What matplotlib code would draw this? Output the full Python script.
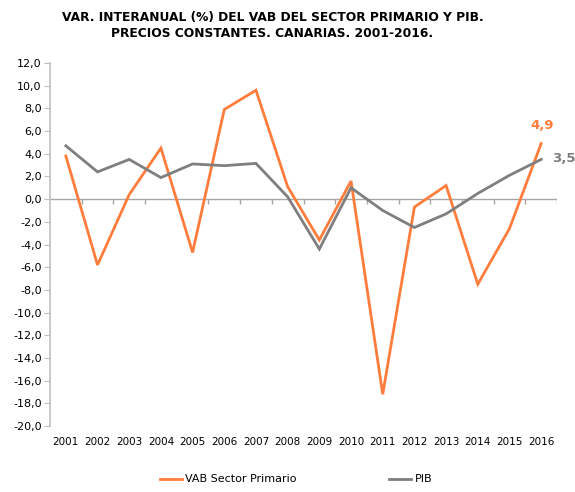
"""
Var. interanual (%) del VAB del sector primario y PIB, Canarias 2001-2016.
"""
import matplotlib
matplotlib.use("Agg")
import matplotlib.pyplot as plt
from matplotlib.ticker import FuncFormatter, MultipleLocator

plt.rcParams.update({
    "font.family": "DejaVu Sans",
    "font.size": 8,
})

# ── Data ─────────────────────────────────────────────────────────────────────
years = [str(y) for y in range(2001, 2017)]
vab_primario = [3.8, -5.8, 0.4, 4.5, -4.7, 7.9, 9.6, 1.1, -3.6, 1.6,
                -17.2, -0.7, 1.2, -7.5, -2.6, 4.9]
pib = [4.7, 2.4, 3.5, 1.9, 3.1, 2.95, 3.15, 0.2, -4.4, 1.0,
       -1.0, -2.5, -1.3, 0.5, 2.1, 3.5]

ORANGE = "#FF7D3C"
GREY = "#7F7F7F"

# ── Figure ───────────────────────────────────────────────────────────────────
fig = plt.figure(figsize=(5.75, 4.92), dpi=100)
ax = fig.add_axes([50 / 575, 1 - 426 / 492, 507 / 575, (426 - 63) / 492])

x = list(range(len(years)))
ax.plot(x, vab_primario, color=ORANGE, lw=2.0, label="VAB Sector Primario",
        solid_joinstyle="miter")
ax.plot(x, pib, color=GREY, lw=2.0, label="PIB", solid_joinstyle="miter")

# end labels
ax.annotate(f"{vab_primario[-1]:.1f}".replace(".", ","), xy=(x[-1], vab_primario[-1]),
            xytext=(1, 8), textcoords="offset points", ha="center", va="bottom",
            color=ORANGE, fontsize=9.5, fontweight="bold")
ax.annotate(f"{pib[-1]:.1f}".replace(".", ","), xy=(x[-1], pib[-1]),
            xytext=(8, 1), textcoords="offset points", ha="left", va="center",
            color=GREY, fontsize=9.5, fontweight="bold")

# axes
ax.set_xlim(-0.5, len(years) - 0.5)
ax.set_ylim(-20, 12)
ax.yaxis.set_major_locator(MultipleLocator(2))
ax.yaxis.set_major_formatter(FuncFormatter(lambda v, _: f"{v:.1f}".replace(".", ",")))
ax.set_xticks(x)
ax.set_xticklabels(years)
ax.tick_params(axis="x", length=0, pad=8, labelsize=7.5)
ax.tick_params(axis="y", length=4, color="#BFBFBF", labelsize=8, pad=2)
for side in ("top", "right", "bottom"):
    ax.spines[side].set_visible(False)
ax.spines["left"].set_color("#BFBFBF")
ax.spines["left"].set_linewidth(1.2)

# category axis at zero with tick marks between categories
ax.axhline(0, color="#A6A6A6", lw=1.0, zorder=1)
ax.vlines([k + 0.5 for k in range(len(years))], -0.4, 0, color="#A6A6A6", lw=1.0,
          zorder=1)

fig.text(0.474, 0.978, "VAR. INTERANUAL (%) DEL VAB DEL SECTOR PRIMARIO Y PIB.\n"
         "PRECIOS CONSTANTES. CANARIAS. 2001-2016.",
         ha="center", va="top", fontsize=8.8, fontweight="bold", linespacing=1.35)

fig.legend(loc="lower center", bbox_to_anchor=(0.515, -0.005), ncol=2, frameon=False,
           fontsize=8, handlelength=2.0, handletextpad=0.3, columnspacing=8.3)

fig.savefig("out.png", dpi=100)
